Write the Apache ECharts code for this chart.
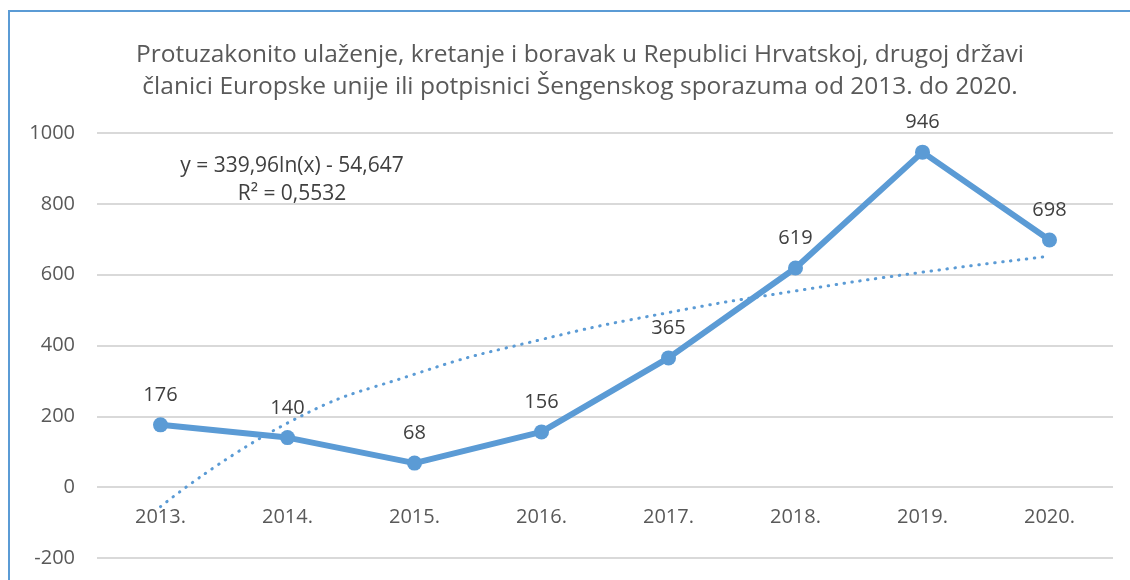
<!DOCTYPE html>
<html>
<head>
<meta charset="utf-8">
<script src="https://cdn.jsdelivr.net/npm/echarts@6/dist/echarts.min.js"></script>
<style>
  html, body { margin: 0; padding: 0; background: #fff; }
  #chart { width: 1130px; height: 580px; }
</style>
</head>
<body>
<div id="chart"></div>
<script>
// categories and values
const years = ["2013.", "2014.", "2015.", "2016.", "2017.", "2018.", "2019.", "2020."];
const counts = [176, 140, 68, 156, 365, 619, 946, 698];
// logarithmic trend line as drawn
const trend = [-55, 181, 319, 417, 493, 554, 607, 652];
const yTicks = { min: -200, max: 1000, step: 200 };

const titleText = "Protuzakonito ulaženje, kretanje i boravak u Republici Hrvatskoj, drugoj državi\nčlanici Europske unije ili potpisnici Šengenskog sporazuma od 2013. do 2020.";
const equationText = "y = 339,96ln(x) - 54,647\nR² = 0,5532";

const font = "Open Sans";
const blue = "#5b9bd5";

const chart = echarts.init(document.getElementById("chart"));

const option = {
  animation: false,
  textStyle: { fontFamily: font },
  title: {
    text: titleText,
    left: 575,
    textAlign: "center",
    top: 34,
    textStyle: {
      fontFamily: font,
      fontSize: 24.5,
      fontWeight: "normal",
      color: "#595959",
      lineHeight: 32,
    },
  },
  graphic: [
    {
      type: "rect",
      shape: { x: 9, y: 11, width: 1200, height: 700 },
      style: { fill: "none", stroke: blue, lineWidth: 2 },
      silent: true,
    },
    {
      type: "text",
      x: 292,
      y: 152,
      style: {
        text: equationText,
        fontFamily: font,
        fontSize: 21,
        fill: "#404040",
        lineHeight: 28,
        align: "center",
      },
    },
  ],
  grid: {
    left: 97,
    right: 17,
    top: 133,
    bottom: 22,
    outerBoundsMode: "none",
  },
  xAxis: {
    type: "category",
    data: years,
    boundaryGap: true,
    // labels sit under the zero line, one grid step above the bottom
    offset: -71,
    axisLine: { show: false, onZero: false },
    axisTick: { show: false },
    axisLabel: {
      margin: 20,
      fontSize: 20,
      color: "#595959",
      fontFamily: font,
    },
  },
  yAxis: {
    type: "value",
    min: yTicks.min,
    max: yTicks.max,
    interval: yTicks.step,
    axisLine: { show: false },
    axisTick: { show: false },
    axisLabel: {
      margin: 22,
      fontSize: 20,
      color: "#595959",
      fontFamily: font,
      formatter: (v) => String(v),
    },
    splitLine: { lineStyle: { color: "#d9d9d9", width: 2 } },
  },
  series: [
    {
      name: "trend",
      type: "line",
      data: trend,
      smooth: true,
      showSymbol: false,
      lineStyle: { color: blue, width: 3, type: [0.5, 7.5], cap: "round" },
      z: 1,
    },
    {
      name: "count",
      type: "line",
      data: counts,
      symbol: "circle",
      symbolSize: 15,
      itemStyle: { color: blue },
      lineStyle: { color: blue, width: 6 },
      label: {
        show: true,
        position: "top",
        distance: 12,
        fontSize: 20,
        color: "#404040",
        fontFamily: font,
      },
      z: 2,
    },
  ],
};

chart.setOption(option);
</script>
</body>
</html>
